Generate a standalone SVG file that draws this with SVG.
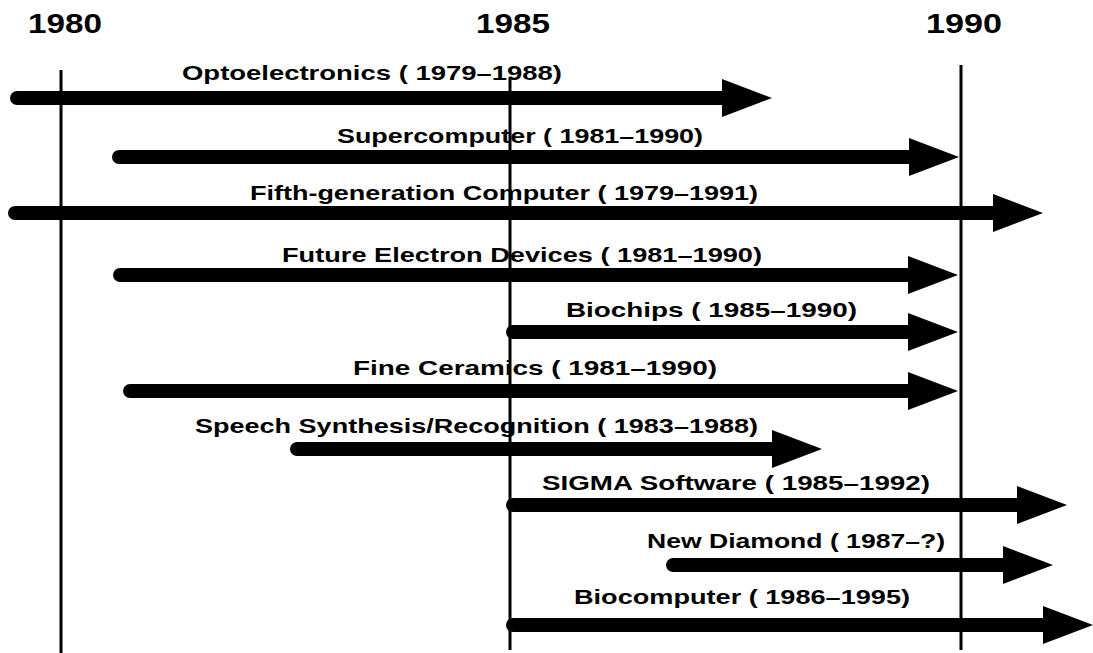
<svg xmlns="http://www.w3.org/2000/svg" width="1093" height="653" viewBox="0 0 1093 653">
  <style>
    .year { font-family: "Liberation Sans", Arial, sans-serif; font-weight: bold; font-size: 28px; fill: #000; }
    .label { font-family: "Liberation Sans", Arial, sans-serif; font-weight: bold; font-size: 21px; fill: #000; }
    .bar { stroke: #000; stroke-width: 14; stroke-linecap: round; fill: none; marker-end: url(#head); }
    .grid { stroke: #000; stroke-width: 3; }
  </style>
  <defs>
    <!-- arrowhead: base sits at the end of the bar, tip 50px further right -->
    <marker id="head" markerUnits="userSpaceOnUse" markerWidth="51" markerHeight="38" refX="0" refY="19" orient="auto" overflow="visible">
      <path d="M0,0 L50,19 L0,38 Z" fill="#000"/>
    </marker>
  </defs>
  <rect width="1093" height="653" fill="#fff"/>

  <!-- year axis -->
  <g id="years">
    <text class="year" x="28" y="33" textLength="74" lengthAdjust="spacingAndGlyphs">1980</text>
    <text class="year" x="476" y="33" textLength="74" lengthAdjust="spacingAndGlyphs">1985</text>
    <text class="year" x="926" y="33" textLength="76" lengthAdjust="spacingAndGlyphs">1990</text>
  </g>

  <!-- project bars -->
  <g id="connectors">
    <line id="bar-opto" class="bar" x1="17" y1="98" x2="722" y2="98"/>
    <line id="bar-super" class="bar" x1="119" y1="157" x2="909" y2="157"/>
    <line id="bar-fifth" class="bar" x1="15" y1="213" x2="993" y2="213"/>
    <line id="bar-future" class="bar" x1="120" y1="275" x2="908" y2="275"/>
    <line id="bar-biochips" class="bar" x1="513" y1="332" x2="908" y2="332"/>
    <line id="bar-ceramics" class="bar" x1="130" y1="391" x2="908" y2="391"/>
    <line id="bar-speech" class="bar" x1="297" y1="449" x2="772" y2="449"/>
    <line id="bar-sigma" class="bar" x1="513" y1="505" x2="1017" y2="505"/>
    <line id="bar-diamond" class="bar" x1="673" y1="565" x2="1003" y2="565"/>
    <line id="bar-biocomp" class="bar" x1="513" y1="625" x2="1043" y2="625"/>
  </g>

  <!-- project labels -->
  <g id="node-opto"><text class="label" x="182" y="80" textLength="380" lengthAdjust="spacingAndGlyphs">Optoelectronics ( 1979–1988)</text></g>
  <g id="node-super"><text class="label" x="337" y="143" textLength="366" lengthAdjust="spacingAndGlyphs">Supercomputer ( 1981–1990)</text></g>
  <g id="node-fifth"><text class="label" x="250" y="200" textLength="508" lengthAdjust="spacingAndGlyphs">Fifth-generation Computer ( 1979–1991)</text></g>
  <g id="node-future"><text class="label" x="282" y="262" textLength="480" lengthAdjust="spacingAndGlyphs">Future Electron Devices ( 1981–1990)</text></g>
  <g id="node-biochips"><text class="label" x="566" y="317" textLength="291" lengthAdjust="spacingAndGlyphs">Biochips ( 1985–1990)</text></g>
  <g id="node-ceramics"><text class="label" x="353" y="375" textLength="364" lengthAdjust="spacingAndGlyphs">Fine Ceramics ( 1981–1990)</text></g>
  <g id="node-speech"><text class="label" x="195" y="433" textLength="563" lengthAdjust="spacingAndGlyphs">Speech Synthesis/Recognition ( 1983–1988)</text></g>
  <g id="node-sigma"><text class="label" x="542" y="490" textLength="388" lengthAdjust="spacingAndGlyphs">SIGMA Software ( 1985–1992)</text></g>
  <g id="node-diamond"><text class="label" x="647" y="548" textLength="298" lengthAdjust="spacingAndGlyphs">New Diamond ( 1987–?)</text></g>
  <g id="node-biocomp"><text class="label" x="574" y="604" textLength="336" lengthAdjust="spacingAndGlyphs">Biocomputer ( 1986–1995)</text></g>

  <!-- year gridlines -->
  <g id="gridlines">
    <line class="grid" x1="61" y1="70" x2="61" y2="653"/>
    <line class="grid" x1="510" y1="78" x2="510" y2="650"/>
    <line class="grid" x1="961" y1="65" x2="961" y2="650"/>
  </g>
</svg>
